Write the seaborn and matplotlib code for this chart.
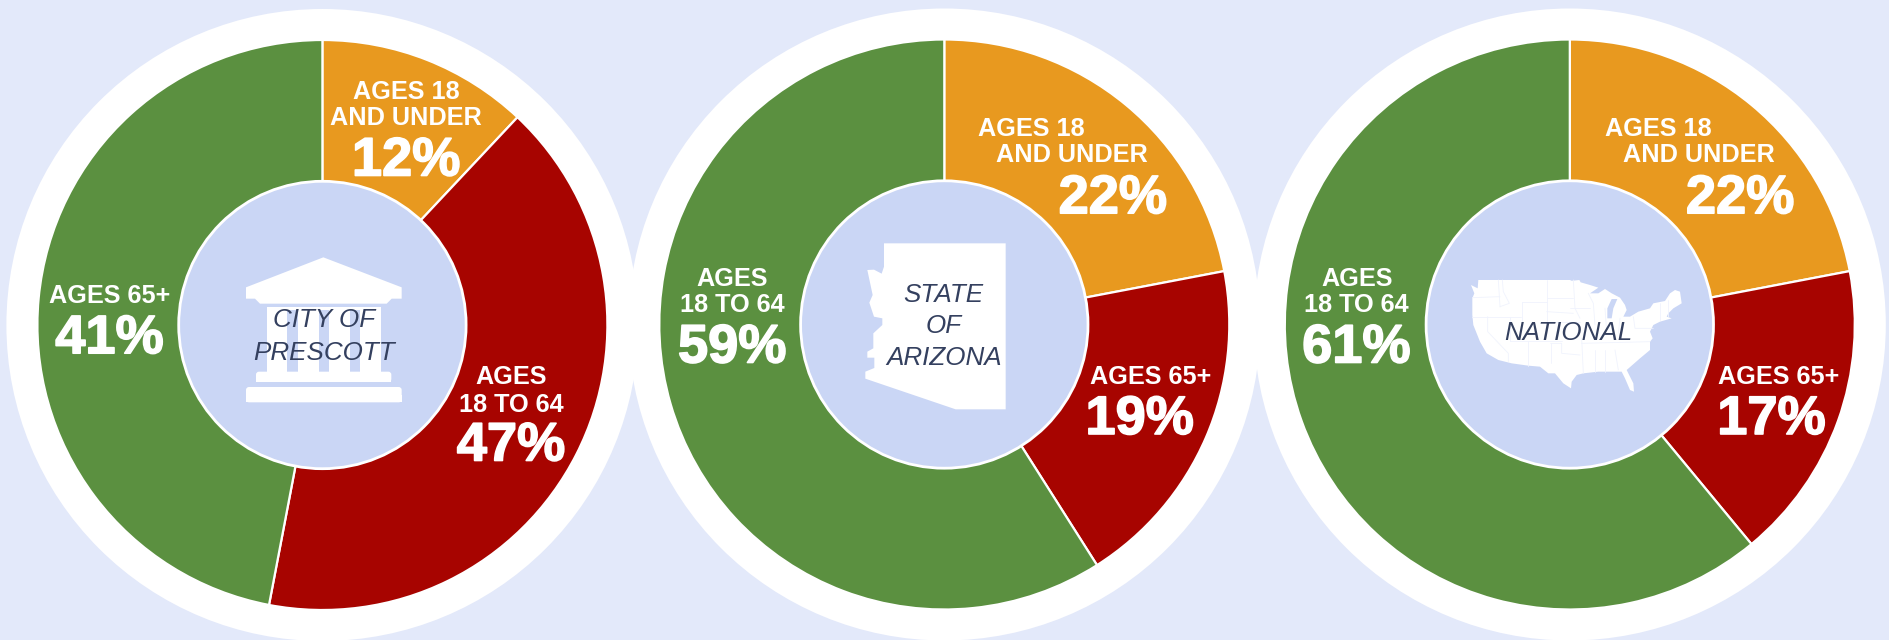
import matplotlib
matplotlib.use("Agg")
import matplotlib.pyplot as plt
import matplotlib.patheffects as pe
from matplotlib.patches import Circle, Polygon, Rectangle, FancyBboxPatch
import seaborn as sns

W, H = 1889, 640

sns.set_theme(style="white")
plt.rcParams["font.family"] = ["Liberation Sans", "DejaVu Sans"]

# wedge shares as drawn (orange, red, green). The first chart's red and green
# wedges are drawn 41/47 while their printed labels say 47/41.
city_shares = [12, 41, 47]
state_shares = [22, 19, 59]
national_shares = [22, 17, 61]

city_pcts = ["12%", "47%", "41%"]
state_pcts = ["22%", "19%", "59%"]
national_pcts = ["22%", "17%", "61%"]

colors = sns.color_palette(["#E8991F", "#A70400", "#5B9040"])
BG = "#E3E9FA"
INNER = "#CAD6F5"
NAVY = "#34405F"

centers = [(322.4, 325.0), (944.3, 324.5), (1569.8, 324.5)]
R_RING, R_OUT, R_IN = 316, 285, 143.7


def fy(y):
    return H - y


def label(ax, x, y, s):
    ax.text(x, fy(y + 8.7), s, color="white", fontsize=18.2, fontweight="bold",
            ha="center", va="baseline", zorder=6)


def pct(ax, x, y, s):
    ax.text(x, fy(y + 18.5), s, color="white", fontsize=39, fontweight="bold",
            ha="center", va="baseline", zorder=6,
            path_effects=[pe.withStroke(linewidth=1.2, foreground="white")])


def place(ax, x, y, s):
    ax.text(x, fy(y + 8.5), s, color=NAVY, fontsize=18.7, style="italic",
            ha="center", va="baseline", zorder=6)


def z2p(points, ox, oy):
    # crop coordinates (3x zoom) to figure pixels
    return [(ox + a / 3, fy(oy + b / 3)) for a, b in points]


fig = plt.figure(figsize=(W / 100, H / 100), dpi=100, facecolor=BG)
ax = fig.add_axes([0, 0, 1, 1], facecolor=BG)

for c, shares in zip(centers, [city_shares, state_shares, national_shares]):
    cc = (c[0], fy(c[1]))
    ax.add_patch(Circle(cc, R_RING, fc="white", ec="none", zorder=0.5))
    ax.pie(shares, colors=colors, startangle=90, counterclock=False, center=cc,
           radius=R_OUT, wedgeprops=dict(edgecolor="white", linewidth=1.6))
    ax.add_patch(Circle(cc, R_IN, fc=INNER, ec="white", lw=2, zorder=3))

ax.set_xlim(0, W)
ax.set_ylim(0, H)
ax.set_aspect("auto")
ax.axis("off")

# courthouse icon
roof = [(228, 352), (460, 262), (695, 352), (695, 386), (665, 386), (650, 401),
        (270, 401), (255, 386), (228, 386)]
ax.add_patch(Polygon(z2p(roof, 170, 170), fc="white", ec="none", zorder=4))
for x0, x1 in [(290, 352), (383, 446), (477, 540), (570, 632)]:
    ax.add_patch(Rectangle((170 + x0 / 3, fy(170 + 606 / 3)), (x1 - x0) / 3, 63,
                           fc="white", ec="none", zorder=4))
ax.add_patch(Rectangle((170 + 290 / 3, fy(170 + 420 / 3)), (632 - 290) / 3, 3,
                       fc="white", ec="none", zorder=4))
for x0, x1, y0, y1 in [(258, 664, 605, 636), (228, 695, 651, 697)]:
    ax.add_patch(FancyBboxPatch((170 + x0 / 3, fy(170 + y1 / 3)), (x1 - x0) / 3,
                                (y1 - y0) / 3, boxstyle="round,pad=0,rounding_size=3",
                                fc="white", ec="none", zorder=4))
    ax.add_patch(Rectangle((170 + x0 / 3, fy(170 + y1 / 3)), (x1 - x0) / 3, (y1 - y0) / 6,
                           fc="white", ec="none", zorder=4))

# arizona outline
arizona = [(282, 220), (647, 220), (647, 718), (497, 718), (226, 626), (226, 605),
           (253, 594), (253, 563), (232, 563), (232, 545), (250, 535), (250, 490),
           (277, 465), (277, 445), (252, 440), (238, 398), (248, 375), (232, 300),
           (252, 299), (275, 311), (282, 290)]
ax.add_patch(Polygon(z2p(arizona, 790, 170), fc="white", ec="none", zorder=4))

# US outline: west half from one crop, east half from the next
usa_west_a = [(18, 30), (38, 40), (40, 15), (100, 15), (245, 15), (320, 15)]
usa_east = [(0, 18), (28, 15), (32, 22), (60, 30), (85, 38), (60, 55), (85, 55), (105, 42),
            (125, 55), (150, 68), (165, 90), (170, 105), (160, 125), (180, 125), (205, 110),
            (240, 100), (250, 85), (285, 78), (300, 55), (315, 45), (330, 50), (335, 85),
            (310, 100), (295, 115), (290, 125), (305, 130), (270, 140), (250, 150), (240, 170),
            (248, 190), (240, 200), (240, 225), (210, 250), (170, 285), (190, 325), (192, 350),
            (180, 345), (165, 310), (155, 290), (120, 290), (85, 290), (40, 295), (20, 300),
            (5, 320), (3, 340)]
usa_west_b = [(295, 325), (270, 295), (250, 295), (225, 275), (190, 272), (140, 265), (100, 255),
              (65, 235), (45, 200), (25, 150), (22, 120), (22, 70), (28, 55)]
usa = z2p(usa_west_a, 1465, 275) + z2p(usa_east, 1570, 275) + z2p(usa_west_b, 1465, 275)
ax.add_patch(Polygon(usa, fc="white", ec="none", zorder=4))
lake = [(125, 72), (112, 100), (112, 130), (125, 130), (130, 100), (142, 72)]
ax.add_patch(Polygon(z2p(lake, 1570, 275), fc=INNER, ec="none", zorder=4))

west_lines = [
    [(100, 15), (105, 95)], [(22, 68), (105, 65)], [(22, 125), (168, 125)],
    [(68, 125), (68, 170), (130, 235), (130, 260)], [(112, 15), (115, 50), (133, 85), (105, 95)],
    [(170, 82), (245, 82)], [(170, 82), (170, 145)], [(245, 15), (245, 140)], [(245, 68), (325, 68)],
    [(245, 110), (325, 115)], [(135, 125), (135, 198)], [(135, 198), (290, 198)],
    [(190, 198), (190, 272)], [(257, 205), (257, 265)], [(257, 205), (290, 205), (290, 235), (345, 240)],
    [(245, 140), (345, 140)],
]
east_lines = [
    [(10, 15), (15, 100), (30, 130)], [(0, 100), (60, 100)], [(35, 190), (40, 295)],
    [(75, 225), (75, 290)], [(105, 225), (105, 290)], [(135, 225), (145, 285)],
    [(35, 205), (240, 200)], [(55, 55), (70, 85), (75, 150)], [(105, 100), (110, 170)],
    [(150, 130), (145, 175)], [(190, 125), (195, 160), (250, 160)], [(270, 85), (270, 135)],
    [(295, 75), (295, 125)],
]
for group, ox in [(west_lines, 1465), (east_lines, 1570)]:
    for seg in group:
        xs, ys = zip(*z2p(seg, ox, 275))
        ax.plot(xs, ys, color="#F0F3FD", lw=0.6, zorder=4.5)

# city of prescott
label(ax, 406, 90.6, "AGES 18")
label(ax, 406, 116.3, "AND UNDER")
pct(ax, 406, 157, city_pcts[0])
label(ax, 511.4, 375.5, "AGES")
label(ax, 511.4, 403, "18 TO 64")
pct(ax, 511, 442, city_pcts[1])
label(ax, 109.4, 294.7, "AGES 65+")
pct(ax, 109.4, 334.7, city_pcts[2])
place(ax, 324.5, 318.4, "CITY OF")
place(ax, 324.5, 351, "PRESCOTT")

# state of arizona
label(ax, 1031.4, 127.8, "AGES 18")
label(ax, 1071.8, 153.5, "AND UNDER")
pct(ax, 1112.7, 194.7, state_pcts[0])
label(ax, 1150.6, 375.5, "AGES 65+")
pct(ax, 1139.6, 415.5, state_pcts[1])
label(ax, 732.2, 277.6, "AGES")
label(ax, 732.2, 303.7, "18 TO 64")
pct(ax, 732.2, 344, state_pcts[2])
place(ax, 943.7, 293, "STATE")
place(ax, 943.7, 324.5, "OF")
place(ax, 943.7, 356.3, "ARIZONA")

# national
label(ax, 1658.8, 127.8, "AGES 18")
label(ax, 1699.2, 153.5, "AND UNDER")
pct(ax, 1740, 194.7, national_pcts[0])
label(ax, 1778.8, 375.5, "AGES 65+")
pct(ax, 1771.4, 415.5, national_pcts[1])
label(ax, 1356.8, 277.6, "AGES")
label(ax, 1356.8, 303.7, "18 TO 64")
pct(ax, 1356.3, 344, national_pcts[2])
place(ax, 1568.6, 331.4, "NATIONAL")

fig.savefig("out.png", dpi=100, facecolor=BG)
